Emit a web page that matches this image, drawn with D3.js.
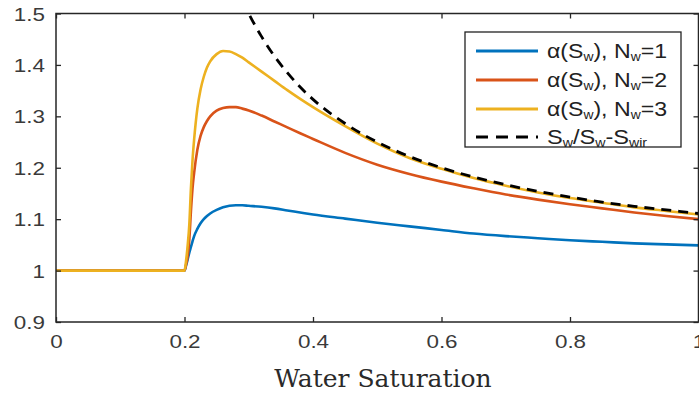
<!DOCTYPE html>
<html><head><meta charset="utf-8">
<script src="https://cdn.jsdelivr.net/npm/d3@7"></script>
<style>body{margin:0;background:#fff}svg{display:block}</style>
</head><body>
<svg id="c" width="699" height="394"></svg>
<script>
const sw = [0,0.2,0.2025,0.205,0.2075,0.21,0.2125,0.215,0.22,0.225,0.23,0.235,0.24,0.25,0.26,0.27,0.28,0.29,0.3,0.32,0.34,0.36,0.38,0.4,0.45,0.5,0.55,0.6,0.65,0.7,0.75,0.8,0.85,0.9,0.95,1.0];
const alphaN1 = [1,1.0,1.01,1.022,1.035,1.046,1.057,1.067,1.081,1.092,1.1,1.106,1.111,1.118,1.123,1.126,1.127,1.127,1.126,1.124,1.121,1.117,1.113,1.109,1.101,1.093,1.086,1.079,1.072,1.067,1.063,1.059,1.056,1.053,1.051,1.049];
const alphaN2 = [1,1.0,1.012,1.028,1.06,1.115,1.16,1.19,1.235,1.262,1.279,1.291,1.30,1.311,1.316,1.318,1.318,1.315,1.3115,1.3015,1.290,1.2785,1.267,1.256,1.229,1.206,1.188,1.173,1.16,1.148,1.138,1.129,1.121,1.113,1.106,1.10];
const alphaN3 = [1,1.0,1.02,1.05,1.09,1.16,1.215,1.255,1.315,1.352,1.377,1.395,1.407,1.421,1.427,1.426,1.421,1.414,1.405,1.387,1.369,1.351,1.334,1.318,1.281,1.247,1.219,1.198,1.18,1.165,1.152,1.141,1.132,1.123,1.116,1.109];
const swDash = [0.28,0.29,0.3,0.32,0.34,0.36,0.38,0.4,0.45,0.5,0.55,0.6,0.65,0.7,0.75,0.8,0.85,0.9,0.95,1.0];
const ratio = [1.556,1.526,1.5,1.455,1.417,1.385,1.357,1.333,1.286,1.25,1.222,1.2,1.182,1.167,1.154,1.143,1.133,1.125,1.118,1.111];
const xTicks = [0,0.2,0.4,0.6,0.8,1];
const yTicks = [0.9,1,1.1,1.2,1.3,1.4,1.5];
const colors = ["#0072BD","#D95319","#EDB120"];

const svg = d3.select("#c");
const L=56, R=698.5, T=13.5, B=322;
const x = d3.scaleLinear().domain([0,1]).range([L,R]);
const y = d3.scaleLinear().domain([0.9,1.5]).range([B,T]);

svg.append("defs").append("clipPath").attr("id","clip")
  .append("rect").attr("x",L).attr("y",T).attr("width",R-L).attr("height",B-T);

const g = svg.append("g").attr("clip-path","url(#clip)");
const line = d3.line().x(d=>x(d[0])).y(d=>y(d[1])).curve(d3.curveMonotoneX);
[alphaN1,alphaN2,alphaN3].forEach((vals,i)=>{
  g.append("path").datum(sw.map((s,j)=>[s,vals[j]]))
   .attr("d",line).attr("fill","none").attr("stroke",colors[i]).attr("stroke-width",2.6)
   .attr("stroke-linejoin","round");
});
g.append("path").datum(swDash.map((s,j)=>[s,ratio[j]]))
  .attr("d",line).attr("fill","none").attr("stroke","#000").attr("stroke-width",2.8)
  .attr("stroke-dasharray","10,7");

const fontTick = "'Liberation Sans', Arial, sans-serif";
const axB = svg.append("g").attr("transform",`translate(0,${B})`)
  .call(d3.axisBottom(x).tickValues(xTicks).tickSize(-5).tickPadding(13).tickFormat(d3.format("")));
const axL = svg.append("g").attr("transform",`translate(${L},0)`)
  .call(d3.axisLeft(y).tickValues(yTicks).tickSize(-5).tickPadding(11).tickFormat(d3.format("")));
const axT = svg.append("g").attr("transform",`translate(0,${T})`)
  .call(d3.axisTop(x).tickValues(xTicks).tickSize(-5).tickFormat(""));
const axR = svg.append("g").attr("transform",`translate(${R},0)`)
  .call(d3.axisRight(y).tickValues(yTicks).tickSize(-5).tickFormat(""));
[axB,axL,axT,axR].forEach(a=>{
  a.select(".domain").remove();
  a.selectAll("line").attr("stroke","#262626").attr("stroke-width",1.3);
  a.selectAll("text").attr("fill","#3a3a3a").style("font-family",fontTick).style("font-size","19px");
});
axL.selectAll("text").attr("dy","0.35em");
[axB,axL].forEach(a=>a.selectAll("text").each(function(){
  const w=this.getComputedTextLength();
  d3.select(this).attr("textLength",w*1.18).attr("lengthAdjust","spacingAndGlyphs");
}));
svg.append("rect").attr("x",L).attr("y",T).attr("width",R-L).attr("height",B-T)
  .attr("fill","none").attr("stroke","#262626").attr("stroke-width",1.5);

svg.append("text").attr("x",383).attr("y",387).attr("text-anchor","middle")
  .style("font-family","'DejaVu Serif', 'Liberation Serif', serif").style("font-size","25px")
  .attr("fill","#2a2a2a").text("Water Saturation");

// legend
const lg = svg.append("g");
lg.append("rect").attr("x",465).attr("y",32).attr("width",216).attr("height",115)
  .attr("fill","#fff").attr("stroke","#222").attr("stroke-width",1.3);
const rowsY=[51,80,109,137];
const labels=[["α(S","w","), N","w","=1"],["α(S","w","), N","w","=2"],["α(S","w","), N","w","=3"],["S","w","/S","w","-S","wir"]];
const widths=[120,120,120,100];
rowsY.forEach((ry,i)=>{
  const l = lg.append("line").attr("x1",476).attr("x2",538).attr("y1",ry).attr("y2",ry)
    .attr("stroke", i<3?colors[i]:"#000").attr("stroke-width",3);
  if(i===3) l.attr("stroke-dasharray","12,8");
  const t = lg.append("text").attr("x",547).attr("y",ry+7)
    .style("font-family","'Liberation Sans', Arial, sans-serif").style("font-size","20px").attr("fill","#222")
    .attr("textLength",widths[i]).attr("lengthAdjust","spacingAndGlyphs");
  labels[i].forEach((p,k)=>{
    const sp = t.append("tspan").text(p);
    if(k%2===1){ sp.style("font-size","12px").attr("dy",3); }
    else if(k>0){ sp.attr("dy",-3); }
  });
});
</script>
</body></html>
